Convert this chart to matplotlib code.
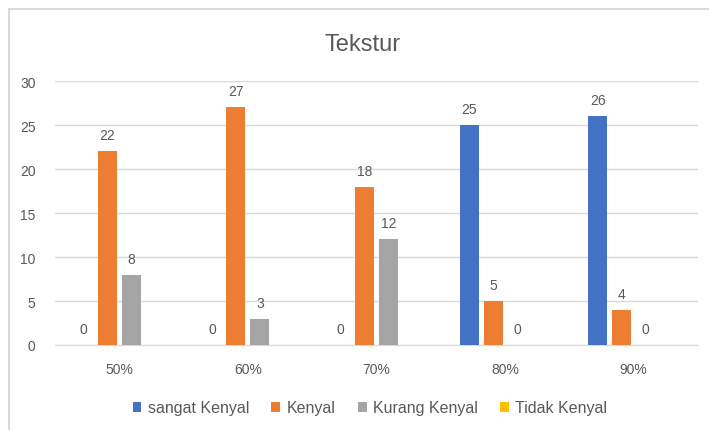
import numpy as np
import matplotlib.pyplot as plt
from matplotlib.lines import Line2D

plt.rcParams['font.family'] = ['Liberation Sans', 'DejaVu Sans']

# data
kategori = ['50%', '60%', '70%', '80%', '90%']
sangat_kenyal = [0, 0, 0, 25, 26]
kenyal = [22, 27, 18, 5, 4]
kurang_kenyal = [8, 3, 12, 0, 0]
tidak_kenyal = [np.nan] * 5  # tidak ada nilai
seri = ['sangat Kenyal', 'Kenyal', 'Kurang Kenyal', 'Tidak Kenyal']
warna = ['#4472C4', '#ED7D31', '#A5A5A5', '#FFC000']

teks = '#595959'

fig = plt.figure(figsize=(7.09, 4.31), dpi=100)
ax = fig.add_axes([55 / 709, 1 - 346 / 431, 643 / 709, (346 - 82) / 431])

x = np.arange(len(kategori))
lebar = 0.147
jarak = 0.186
nilai = [sangat_kenyal, kenyal, kurang_kenyal, tidak_kenyal]

for i, (nama, v, c) in enumerate(zip(seri, nilai, warna)):
    pos = x + (i - 1.5) * jarak
    ax.bar(pos, v, width=lebar, color=c, label=nama, zorder=3)
    for p, val in zip(pos, v):
        if not np.isnan(val):
            ax.annotate(f'{val:g}', (p, val), xytext=(0, 6.5), textcoords='offset points',
                        ha='center', va='bottom', fontsize=10, color=teks)

ax.set_xlim(-0.5, len(kategori) - 0.5)
ax.set_ylim(0, 30)
ax.set_yticks(range(0, 31, 5))
ax.set_xticks(x)
ax.set_xticklabels(kategori)
ax.grid(axis='y', color='#D9D9D9', linewidth=1, zorder=0)
for s in ['top', 'right', 'left']:
    ax.spines[s].set_visible(False)
ax.spines['bottom'].set_color('#D9D9D9')
ax.tick_params(axis='both', length=0, colors=teks, labelsize=10)
ax.tick_params(axis='y', pad=14)
ax.tick_params(axis='x', pad=12)

fig.text(363 / 709, 1 - 45 / 431, 'Tekstur', fontsize=17, color=teks,
         ha='center', va='center')

ax.legend(loc='center', bbox_to_anchor=(370 / 709, 1 - 409 / 431),
          bbox_transform=fig.transFigure, ncol=4, frameon=False,
          fontsize=11.5, handlelength=0.55, handleheight=0.55, handletextpad=0.4,
          columnspacing=1.4, labelcolor=teks)

# bingkai chart
fig.add_artist(Line2D([8.5 / 709, 1], [1 - 9.5 / 431, 1 - 9.5 / 431],
                      transform=fig.transFigure, color='#D9D9D9', linewidth=1.5))
fig.add_artist(Line2D([8.5 / 709, 8.5 / 709], [0, 1 - 9.5 / 431],
                      transform=fig.transFigure, color='#D9D9D9', linewidth=1.5))

fig.savefig('out.png', dpi=100)
